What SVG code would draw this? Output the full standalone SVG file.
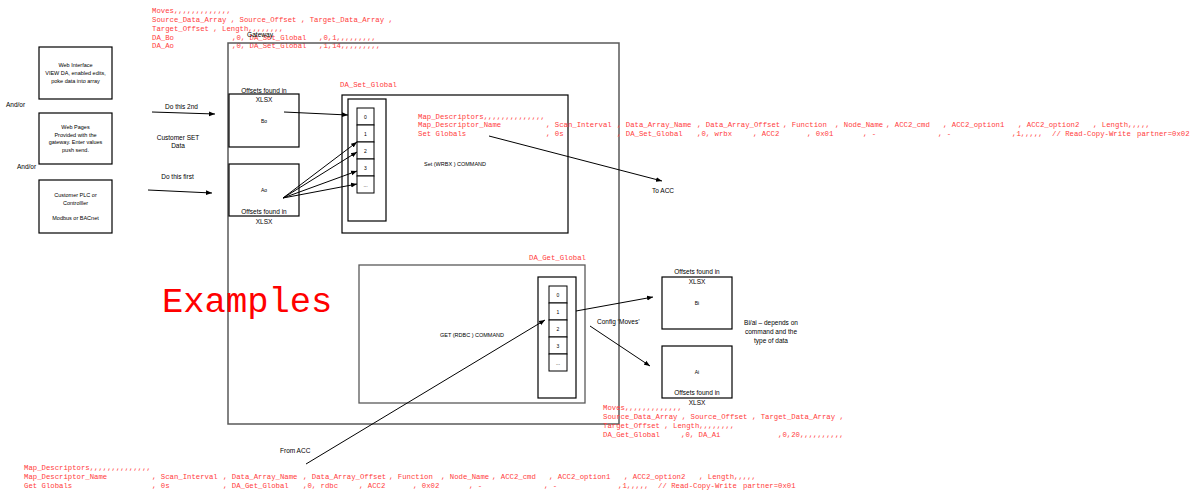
<svg xmlns="http://www.w3.org/2000/svg" width="1198" height="493" viewBox="0 0 1198 493">
<style>
.box{fill:#fff;stroke:#000;stroke-width:1.2}
.gbox{fill:none;stroke:#595959;stroke-width:1.5}
.cell{fill:#fff;stroke:#000;stroke-width:1}
.t{font-family:"Liberation Sans",Arial,sans-serif;fill:#000}
.s{font-size:5.5px}
.m{font-size:6.5px}
.tiny{font-size:5px}
.c{text-anchor:middle}
.red{font-family:"Liberation Mono","Courier New",monospace;fill:#ff3c3c;font-size:7.3px}
.conn line{stroke:#000;stroke-width:1;marker-end:url(#ah)}
</style>
<defs>
<marker id="ah" viewBox="0 0 10 10" refX="10" refY="5" markerWidth="6" markerHeight="6" orient="auto" markerUnits="userSpaceOnUse">
<path d="M0,1 L10,5 L0,9 z" fill="#000"/>
</marker>
</defs>
<rect width="1198" height="493" fill="#fff"/>

<g id="moves-top" class="red">
<text x="152" y="13">Moves,,,,,,,,,,,,,</text>
<text x="152" y="22">Source_Data_Array , Source_Offset , Target_Data_Array ,</text>
<text x="152" y="31">Target_Offset , Length,,,,,,,,</text>
<text y="39.5"><tspan x="152">DA_Bo</tspan><tspan x="232">,0, DA_Set_Global</tspan><tspan x="319">,0,1,,,,,,,,,</tspan></text>
<text y="48"><tspan x="152">DA_Ao</tspan><tspan x="232">,0, DA_Set_Global</tspan><tspan x="319">,1,14,,,,,,,,,</tspan></text>
</g>

<g id="gateway">
<rect class="gbox" x="228" y="43" width="391" height="381"/>
<text class="t" x="247" y="36.5" font-size="6.6" fill="#333">Gateway</text>
</g>

<g id="web-interface">
<rect class="box" x="39" y="47" width="73" height="52"/>
<text class="t s c" x="75.5" y="67">Web Interface</text>
<text class="t s c" x="75.5" y="75">VIEW DA, enabled edits,</text>
<text class="t s c" x="75.5" y="83">poke data into array</text>
</g>
<g id="web-pages">
<rect class="box" x="39" y="113" width="73" height="51"/>
<text class="t s c" x="75.5" y="129">Web Pages</text>
<text class="t s c" x="75.5" y="136.5">Provided with the</text>
<text class="t s c" x="75.5" y="144">gateway. Enter values</text>
<text class="t s c" x="75.5" y="151.5">push send.</text>
</g>
<g id="customer-plc">
<rect class="box" x="39" y="180" width="73" height="53"/>
<text class="t s c" x="75.5" y="197">Customer PLC or</text>
<text class="t s c" x="75.5" y="204.5">Controlller</text>
<text class="t s c" x="75.5" y="219.5">Modbus or BACnet</text>
</g>

<g id="left-labels">
<text class="t m" x="6" y="107">And/or</text>
<text class="t m" x="17" y="169">And/or</text>
<text class="t m c" x="181.5" y="109">Do this 2nd</text>
<text class="t m c" x="178" y="140">Customer SET</text>
<text class="t m c" x="178" y="148">Data</text>
<text class="t m c" x="177.5" y="179">Do this first</text>
</g>

<g id="bo">
<rect class="box" x="229" y="94" width="70" height="53"/>
<text class="t m c" x="264" y="93">Offsets found in</text>
<text class="t m c" x="264" y="102">XLSX</text>
<text class="t tiny c" x="264" y="123">Bo</text>
</g>
<g id="ao">
<rect class="box" x="229" y="164" width="70" height="52"/>
<text class="t tiny c" x="264" y="192">Ao</text>
<text class="t m c" x="264" y="214">Offsets found in</text>
<text class="t m c" x="264" y="223.5">XLSX</text>
</g>

<g id="da-set-global">
<rect class="box" x="342" y="95" width="226" height="138"/>
<text class="red" x="340" y="86.5">DA_Set_Global</text>
<rect class="box" x="348" y="99" width="38" height="122"/>
<rect class="cell" x="357" y="108" width="17" height="17"/>
<rect class="cell" x="357" y="125" width="17" height="17"/>
<rect class="cell" x="357" y="142" width="17" height="17"/>
<rect class="cell" x="357" y="159" width="17" height="17"/>
<rect class="cell" x="357" y="176" width="17" height="17"/>
<text class="t tiny c" x="365.5" y="118.5">0</text>
<text class="t tiny c" x="365.5" y="135.5">1</text>
<text class="t tiny c" x="365.5" y="152.5">2</text>
<text class="t tiny c" x="365.5" y="169.5">3</text>
<text class="t tiny c" x="365.5" y="186.5">...</text>
<text class="t s" x="424" y="166">Set (WRBX ) COMMAND</text>
</g>

<g id="set-globals-text" class="red">
<text x="418" y="118.5">Map_Descriptors,,,,,,,,,,,,,,</text>
<text y="127"><tspan x="418">Map_Descriptor_Name</tspan><tspan x="546">, Scan_Interval</tspan><tspan x="617">, Data_Array_Name</tspan><tspan x="697">, Data_Array_Offset</tspan><tspan x="783">, Function</tspan><tspan x="835">, Node_Name</tspan><tspan x="886">, ACC2_cmd</tspan><tspan x="943">, ACC2_option1</tspan><tspan x="1018">, ACC2_option2</tspan><tspan x="1093">, Length,,,,,</tspan></text>
<text y="135.5"><tspan x="418">Set Globals</tspan><tspan x="546">, 0s</tspan><tspan x="617">, DA_Set_Global</tspan><tspan x="697">,0, wrbx</tspan><tspan x="753">, ACC2</tspan><tspan x="807">, 0x01</tspan><tspan x="863">, -</tspan><tspan x="938">, -</tspan><tspan x="1012">,1,,,,,</tspan><tspan x="1052">// Read-Copy-Write</tspan><tspan x="1137">partner=0x02</tspan></text>
</g>

<g id="da-get-global">
<rect class="gbox" x="359" y="265" width="226" height="138" style="stroke-width:1.3"/>
<text class="red" x="529" y="259.5">DA_Get_Global</text>
<rect class="box" x="538" y="277" width="38" height="121"/>
<rect class="cell" x="549" y="286" width="18" height="17"/>
<rect class="cell" x="549" y="303" width="18" height="17"/>
<rect class="cell" x="549" y="320" width="18" height="17"/>
<rect class="cell" x="549" y="337" width="18" height="17"/>
<rect class="cell" x="549" y="354" width="18" height="17"/>
<text class="t tiny c" x="558" y="296.5">0</text>
<text class="t tiny c" x="558" y="313.5">1</text>
<text class="t tiny c" x="558" y="330.5">2</text>
<text class="t tiny c" x="558" y="347.5">3</text>
<text class="t tiny c" x="558" y="364.5">...</text>
<text class="t s c" x="472" y="337">GET (RDBC ) COMMAND</text>
</g>

<g id="bi">
<rect class="box" x="662" y="277" width="70" height="52"/>
<text class="t m c" x="697" y="274">Offsets found in</text>
<text class="t m c" x="697" y="283.5">XLSX</text>
<text class="t tiny c" x="697" y="305">Bi</text>
</g>
<g id="ai">
<rect class="box" x="662" y="346" width="70" height="52"/>
<text class="t tiny c" x="697" y="374">Ai</text>
<text class="t m c" x="697" y="395">Offsets found in</text>
<text class="t m c" x="697" y="405">XLSX</text>
</g>

<g id="notes">
<text class="t m" x="597" y="324">Config ‘Moves’</text>
<text class="t m c" x="771" y="325">Bi/ai – depends on</text>
<text class="t m c" x="771" y="334">command and the</text>
<text class="t m c" x="771" y="343">type of data</text>
<text class="t m" x="652" y="193">To ACC</text>
<text class="t m" x="280" y="453">From ACC</text>
<text x="162" y="312" font-family="'Liberation Mono','Courier New',monospace" font-size="35.5" fill="#f00">Examples</text>
</g>

<g id="moves-bottom" class="red">
<text x="603" y="409.5">Moves,,,,,,,,,,,,,</text>
<text x="603" y="418.5">Source_Data_Array , Source_Offset , Target_Data_Array ,</text>
<text x="603" y="427.5">Target_Offset , Length,,,,,,,,</text>
<text y="436.5"><tspan x="603">DA_Get_Global</tspan><tspan x="681">,0, DA_Ai</tspan><tspan x="778">,0,20,,,,,,,,,,</tspan></text>
</g>

<g id="get-globals-text" class="red">
<text x="24" y="469.5">Map_Descriptors,,,,,,,,,,,,,,</text>
<text y="479"><tspan x="24">Map_Descriptor_Name</tspan><tspan x="152">, Scan_Interval</tspan><tspan x="223">, Data_Array_Name</tspan><tspan x="303">, Data_Array_Offset</tspan><tspan x="389">, Function</tspan><tspan x="441">, Node_Name</tspan><tspan x="492">, ACC2_cmd</tspan><tspan x="549">, ACC2_option1</tspan><tspan x="624">, ACC2_option2</tspan><tspan x="699">, Length,,,,,</tspan></text>
<text y="488"><tspan x="24">Get Globals</tspan><tspan x="152">, 0s</tspan><tspan x="223">, DA_Get_Global</tspan><tspan x="303">,0, rdbc</tspan><tspan x="359">, ACC2</tspan><tspan x="413">, 0x02</tspan><tspan x="469">, -</tspan><tspan x="544">, -</tspan><tspan x="618">,1,,,,,</tspan><tspan x="658">// Read-Copy-Write</tspan><tspan x="743">partner=0x01</tspan></text>
</g>

<g id="connectors" class="conn">
<line x1="152" y1="112" x2="215" y2="114"/>
<line x1="148" y1="190" x2="212" y2="193"/>
<line x1="284" y1="112" x2="348" y2="115"/>
<line x1="283" y1="198" x2="357" y2="142"/>
<line x1="283" y1="198" x2="357" y2="152"/>
<line x1="283" y1="198" x2="357" y2="171"/>
<line x1="283" y1="198" x2="357" y2="184"/>
<line x1="489" y1="136" x2="662" y2="181"/>
<line x1="306" y1="464" x2="545" y2="320"/>
<line x1="576" y1="311" x2="653" y2="297"/>
<line x1="590" y1="326" x2="650" y2="366"/>
</g>
</svg>
